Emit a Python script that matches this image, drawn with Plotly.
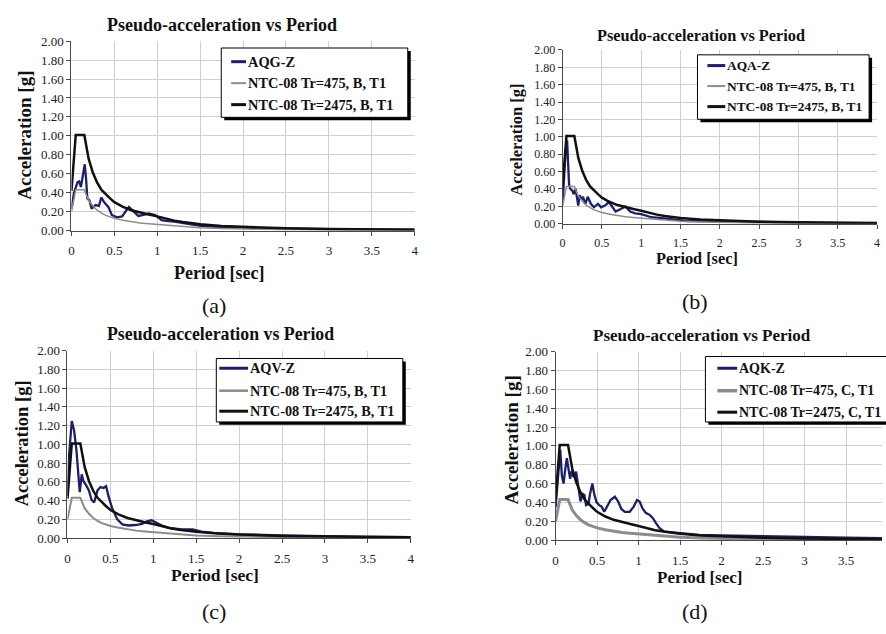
import plotly.graph_objects as go

W, H = 886, 634

# ---------------- data ----------------
NTC_T = [0, 0.05, 0.15, 0.2, 0.25, 0.3, 0.35, 0.4, 0.45, 0.5, 0.6, 0.7, 0.8, 0.9, 1.0,
         1.1, 1.2, 1.3, 1.4, 1.5, 1.75, 2.0, 2.5, 3.0, 3.5, 4.0]
NTC_2475_B = [0.42, 1.01, 1.01, 0.76, 0.61, 0.505, 0.43, 0.38, 0.34, 0.30, 0.25, 0.215, 0.19,
              0.17, 0.15, 0.125, 0.105, 0.09, 0.077, 0.067, 0.049, 0.038, 0.024, 0.017, 0.012, 0.009]
NTC_475_B = [0.20, 0.43, 0.43, 0.32, 0.26, 0.215, 0.185, 0.16, 0.145, 0.13, 0.11, 0.092, 0.08,
             0.072, 0.065, 0.053, 0.045, 0.038, 0.033, 0.029, 0.021, 0.016, 0.010, 0.007, 0.005, 0.004]
NTC_2475_C = [0.44, 1.01, 1.01, 0.76, 0.61, 0.505, 0.43, 0.38, 0.34, 0.30, 0.25, 0.215, 0.19,
              0.17, 0.15, 0.125, 0.105, 0.09, 0.077, 0.067, 0.049, 0.038, 0.024, 0.017, 0.012, 0.009]
NTC_475_C = [0.20, 0.43, 0.43, 0.32, 0.26, 0.215, 0.185, 0.16, 0.145, 0.13, 0.11, 0.092, 0.08,
             0.072, 0.065, 0.053, 0.045, 0.038, 0.033, 0.029, 0.021, 0.016, 0.010, 0.007, 0.005, 0.004]

AQG_T = [0, 0.03, 0.07, 0.09, 0.11, 0.13, 0.155, 0.17, 0.185, 0.21, 0.235, 0.28, 0.32, 0.347,
         0.38, 0.43, 0.47, 0.53, 0.59, 0.64, 0.67, 0.72, 0.78, 0.84, 0.90, 0.975, 1.05, 1.13,
         1.2, 1.36, 1.51, 1.7, 1.9, 2.2, 2.48, 3.0, 3.5, 4.0]
AQG_A = [0.23, 0.40, 0.51, 0.52, 0.46, 0.55, 0.70, 0.55, 0.34, 0.32, 0.23, 0.27, 0.26, 0.35,
         0.30, 0.25, 0.165, 0.14, 0.15, 0.215, 0.25, 0.205, 0.155, 0.165, 0.18, 0.165, 0.11, 0.10,
         0.095, 0.07, 0.05, 0.04, 0.035, 0.027, 0.02, 0.015, 0.012, 0.01]

AQA_T = [0, 0.02, 0.04, 0.058, 0.07, 0.083, 0.1, 0.125, 0.14, 0.167, 0.18, 0.2, 0.217, 0.24,
         0.26, 0.29, 0.32, 0.36, 0.40, 0.45, 0.49, 0.54, 0.59, 0.63, 0.675, 0.74, 0.8, 0.86,
         0.925, 1.0, 1.13, 1.26, 1.42, 1.59, 2.0, 2.5, 3.0, 3.5, 4.0]
AQA_A = [0.23, 0.50, 0.85, 0.96, 0.70, 0.45, 0.40, 0.38, 0.34, 0.40, 0.32, 0.21, 0.33, 0.28,
         0.31, 0.23, 0.31, 0.23, 0.19, 0.23, 0.19, 0.21, 0.25, 0.20, 0.14, 0.17, 0.20, 0.14,
         0.12, 0.11, 0.075, 0.065, 0.045, 0.03, 0.03, 0.02, 0.012, 0.008, 0.005]

AQV_T = [0, 0.02, 0.05, 0.077, 0.104, 0.127, 0.143, 0.166, 0.185, 0.22, 0.25, 0.28, 0.31,
         0.35, 0.385, 0.42, 0.45, 0.48, 0.52, 0.58, 0.64, 0.71, 0.79, 0.87, 0.925, 0.98, 1.04,
         1.10, 1.18, 1.33, 1.46, 1.56, 1.7, 2.0, 2.5, 3.0, 3.5, 4.0]
AQV_A = [0.45, 0.90, 1.25, 1.15, 0.94, 0.67, 0.49, 0.68, 0.61, 0.56, 0.51, 0.41, 0.38,
         0.51, 0.545, 0.535, 0.555, 0.44, 0.32, 0.20, 0.146, 0.135, 0.14, 0.153, 0.18, 0.19,
         0.163, 0.135, 0.11, 0.094, 0.094, 0.07, 0.055, 0.04, 0.03, 0.02, 0.012, 0.01]

AQK_T = [0, 0.036, 0.056, 0.076, 0.096, 0.116, 0.136, 0.156, 0.175, 0.195, 0.215, 0.247,
         0.275, 0.30, 0.327, 0.347, 0.367, 0.395, 0.415, 0.443, 0.467, 0.494, 0.526, 0.554,
         0.586, 0.622, 0.662, 0.714, 0.754, 0.793, 0.833, 0.893, 0.941, 0.981, 1.013, 1.045,
         1.085, 1.13, 1.17, 1.21, 1.25, 1.31, 1.41, 1.53, 1.73, 2.0, 2.5, 3.0, 3.5, 4.0]
AQK_A = [0.35, 0.79, 0.96, 0.68, 0.60, 0.75, 0.87, 0.75, 0.65, 0.735, 0.67, 0.725, 0.58,
         0.41, 0.49, 0.48, 0.37, 0.38, 0.49, 0.60, 0.48, 0.40, 0.37, 0.355, 0.30, 0.355,
         0.425, 0.46, 0.41, 0.33, 0.30, 0.30, 0.355, 0.425, 0.41, 0.34, 0.29, 0.27, 0.235,
         0.18, 0.13, 0.09, 0.08, 0.07, 0.055, 0.05, 0.045, 0.035, 0.025, 0.02]

TITLE = "Pseudo-acceleration vs Period"
X_TITLE = "Period [sec]"
Y_TITLE = "Acceleration [g]"
X_TICKS = [0, 0.5, 1, 1.5, 2, 2.5, 3, 3.5, 4]
Y_TICKS = [0, 0.2, 0.4, 0.6, 0.8, 1.0, 1.2, 1.4, 1.6, 1.8, 2.0]

# ---------------- styles ----------------
SERIF = "Liberation Serif"
BLUE = "#1c1f6c"
BLACK = "#111111"
GREY = "#8c8c8c"
GRID = "#cfcfcf"
AXIS = "#4a4a4a"

panels = [
    dict(label="(a)", rec=("AQG-Z", AQG_T, AQG_A), soil="B", n475=NTC_475_B, n2475=NTC_2475_B,
         plot=(69, 35, 415, 229), xmax=4.0, title=(221, 18, 18), xt=(218, 272, 18), yt=(22, 131, 19),
         lab=(213, 306), leg=(220, 42, 408, 113), rows=(56, 78, 100), samp=(230, 245), lfs=14.4,
         gw=1.5, tfs=13),
    dict(label="(b)", rec=("AQA-Z", AQA_T, AQA_A), soil="B", n475=NTC_475_B, n2475=NTC_2475_B,
         plot=(564, 44, 881, 222), xmax=4.0, title=(704, 29, 16.3), xt=(700, 258, 16.3), yt=(518, 136, 16.5),
         lab=(698, 302), leg=(700, 49, 873, 115), rows=(60, 81, 102), samp=(710, 728), lfs=13.4,
         gw=1.5, tfs=12),
    dict(label="(c)", rec=("AQV-Z", AQV_T, AQV_A), soil="B", n475=NTC_475_B, n2475=NTC_2475_B,
         plot=(65, 352, 411, 544), xmax=4.0, title=(219, 335, 17.8), xt=(214, 582, 17.5), yt=(20, 447, 18.5),
         lab=(213, 619), leg=(215, 360, 403, 425), rows=(370, 393, 414), samp=(218, 247), lfs=14.3,
         gw=2.0, tfs=13),
    dict(label="(d)", rec=("AQK-Z", AQK_T, AQK_A), soil="C", n475=NTC_475_C, n2475=NTC_2475_C,
         plot=(557, 353, 886, 546), xmax=3.933, title=(705, 336, 17), xt=(702, 584, 17), yt=(513, 443, 19),
         lab=(698, 619), leg=(708, 358, 905, 425), rows=(370, 393, 415), samp=(720, 740), lfs=14,
         gw=3.0, tfs=13),
]


def px(x):
    return x / W


def py(y):
    return 1 - y / H


fig = go.Figure()
layout = dict(width=W, height=H, autosize=False, margin=dict(l=0, r=0, t=0, b=0),
              paper_bgcolor="white", plot_bgcolor="white", showlegend=False,
              font=dict(family=SERIF))
annotations = []
shapes = []

for i, p in enumerate(panels, start=1):
    xa = "x" if i == 1 else f"x{i}"
    ya = "y" if i == 1 else f"y{i}"
    x0, y0, x1, y1 = p["plot"]
    layout["xaxis" if i == 1 else f"xaxis{i}"] = dict(
        domain=[px(x0), px(x1)], anchor=ya, range=[0, p["xmax"]], tickvals=X_TICKS,
        showgrid=True, gridcolor=GRID, gridwidth=1, zeroline=False,
        showline=True, linecolor=AXIS, linewidth=1, ticks="outside", ticklen=4, tickcolor=AXIS,
        tickfont=dict(family=SERIF, size=p["tfs"], color="#222"), ticklabelstandoff=4)
    layout["yaxis" if i == 1 else f"yaxis{i}"] = dict(
        domain=[py(y1), py(y0)], anchor=xa, range=[0, 2.0], tickvals=Y_TICKS, tickformat=".2f",
        showgrid=True, gridcolor=GRID, gridwidth=1, zeroline=False,
        showline=True, linecolor=AXIS, linewidth=1, ticks="outside", ticklen=4, tickcolor=AXIS,
        tickfont=dict(family=SERIF, size=p["tfs"], color="#222"))

    name, rt, ra = p["rec"]
    n475 = f"NTC-08 Tr=475, {p['soil']}, T1"
    n2475 = f"NTC-08 Tr=2475, {p['soil']}, T1"
    fig.add_trace(go.Scatter(x=rt, y=ra, mode="lines", name=name, xaxis=xa, yaxis=ya,
                             line=dict(color=BLUE, width=2.3)))
    fig.add_trace(go.Scatter(x=NTC_T, y=p["n475"], mode="lines", name=n475, xaxis=xa, yaxis=ya,
                             line=dict(color=GREY, width=p["gw"])))
    fig.add_trace(go.Scatter(x=NTC_T, y=p["n2475"], mode="lines", name=n2475, xaxis=xa, yaxis=ya,
                             line=dict(color=BLACK, width=2.5)))

    # titles
    tx, ty, tfs = p["title"]
    annotations.append(dict(text=f"<b>{TITLE}</b>", x=px(tx), y=py(ty), xref="paper", yref="paper",
                            xanchor="center", yanchor="middle", showarrow=False,
                            font=dict(family=SERIF, size=tfs, color="#111")))
    xtx, xty, xfs = p["xt"]
    annotations.append(dict(text=f"<b>{X_TITLE}</b>", x=px(xtx), y=py(xty),
                            xref="paper", yref="paper", xanchor="center", yanchor="middle",
                            showarrow=False, font=dict(family=SERIF, size=xfs, color="#111")))
    ytx, yty, yfs = p["yt"]
    annotations.append(dict(text=f"<b>{Y_TITLE}</b>", x=px(ytx), y=py(yty),
                            xref="paper", yref="paper", xanchor="center", yanchor="middle",
                            textangle=-90, showarrow=False,
                            font=dict(family=SERIF, size=yfs, color="#111")))
    annotations.append(dict(text=p["label"], x=px(p["lab"][0]), y=py(p["lab"][1]),
                            xref="paper", yref="paper", xanchor="center", yanchor="middle",
                            showarrow=False, font=dict(family=SERIF, size=22, color="#111")))

    # legend box with drop shadow
    lx0, ly0, lx1, ly1 = p["leg"]
    shapes.append(dict(type="rect", xref="paper", yref="paper", x0=px(lx0 + 3), x1=px(lx1 + 3),
                       y0=py(ly1 + 3), y1=py(ly0 + 3), fillcolor="#000", line=dict(width=0)))
    shapes.append(dict(type="rect", xref="paper", yref="paper", x0=px(lx0), x1=px(lx1),
                       y0=py(ly1), y1=py(ly0), fillcolor="white", line=dict(color="#000", width=1)))
    sx0, sx1 = p["samp"]
    for (txt, col, wid), ry in zip([(name, BLUE, 3), (n475, GREY, p["gw"] + 0.5), (n2475, BLACK, 3)],
                                   p["rows"]):
        shapes.append(dict(type="line", xref="paper", yref="paper", x0=px(sx0), x1=px(sx1),
                           y0=py(ry), y1=py(ry), line=dict(color=col, width=wid)))
        annotations.append(dict(text=f"<b>{txt}</b>", x=px(sx1), y=py(ry), xref="paper",
                                yref="paper", xanchor="left", yanchor="middle", showarrow=False,
                                font=dict(family=SERIF, size=p["lfs"], color="#111")))

layout["annotations"] = annotations
layout["shapes"] = shapes
fig.update_layout(**layout)
fig.write_html("out.html")
